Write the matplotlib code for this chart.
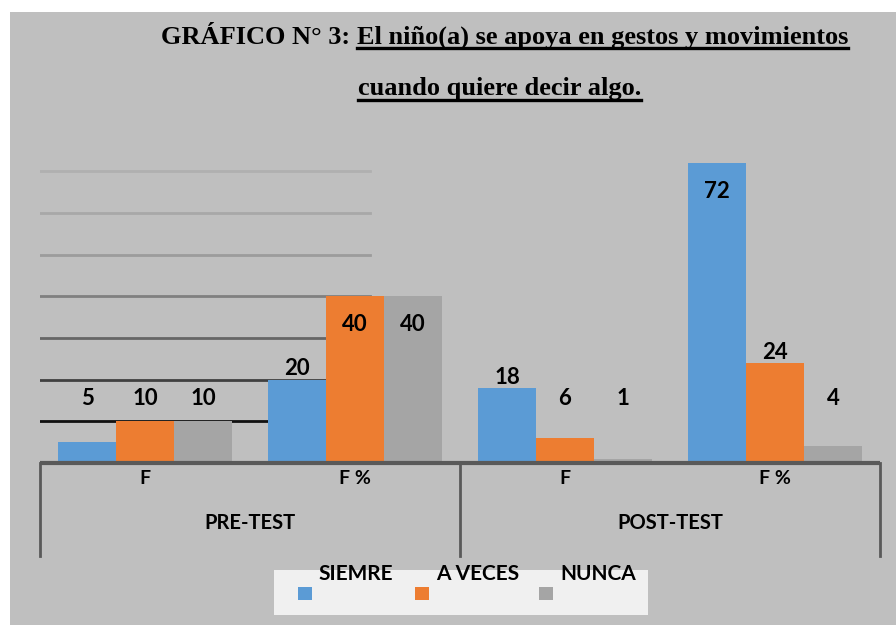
import matplotlib
matplotlib.use('Agg')
import matplotlib.pyplot as plt
from matplotlib.patches import Rectangle
from matplotlib.lines import Line2D
import numpy as np

# data
groups = ['PRE-TEST', 'POST-TEST']
categories = ['F', 'F %', 'F', 'F %']
series = ['SIEMRE', 'A VECES', 'NUNCA']
siempre = [5, 20, 18, 72]
a_veces = [10, 40, 6, 24]
nunca = [10, 40, 1, 4]
values = [siempre, a_veces, nunca]
colors = ['#5B9BD5', '#ED7D31', '#A5A5A5']

W, H = 896, 625
fig = plt.figure(figsize=(W / 100, H / 100), dpi=100)
fig.patch.set_facecolor('white')

# grey chart area
fig.patches.append(Rectangle((10 / W, 0), 1 - 10 / W, (H - 12) / H,
                             transform=fig.transFigure, facecolor='#BFBFBF',
                             edgecolor='none', zorder=-5))

lab_font = 'Lato'
ttl_font = 'Liberation Serif'

# title, second part underlined
t1 = fig.text(350 / W, 1 - 37 / H, 'GRÁFICO N° 3:', ha='right', va='center',
              fontsize=19, fontweight='bold', family=ttl_font)
t2 = fig.text(357 / W, 1 - 37 / H, 'El niño(a) se apoya en gestos y movimientos',
              ha='left', va='center', fontsize=19, fontweight='bold', family=ttl_font)
t3 = fig.text(358 / W, 1 - 89 / H, 'cuando quiere decir algo.', ha='left', va='center',
              fontsize=19, fontweight='bold', family=ttl_font)
r = fig.canvas.get_renderer()
for t, yu in [(t2, 48), (t3, 100)]:
    bb = t.get_window_extent(r)
    fig.lines.append(Line2D([bb.x0 / W, bb.x1 / W], [1 - yu / H, 1 - yu / H],
                            transform=fig.transFigure, color='black', lw=2.4))

# axes: baseline at y=463 px, x from 40 to 880 px
ax_h = 80 * (300 / 72)
ax = fig.add_axes([40 / W, (H - 463) / H, 840 / W, ax_h / H])
ax.set_facecolor('none')
ax.set_xlim(-0.5, 3.5)
ax.set_ylim(0, 80)
for s in ax.spines.values():
    s.set_visible(False)
ax.set_xticks([])
ax.set_yticks([])

# odd partial gridlines on the left side
grid_cols = ['#111111', '#404040', '#666666', '#808080', '#9c9c9c', '#a8a8a8', '#b0b0b0']
for i, y in enumerate(range(10, 80, 10)):
    ax.axhline(y, xmin=0, xmax=(370 - 40) / 840, color=grid_cols[i], lw=2, zorder=1)

x = np.arange(len(categories))
bw = 58 / 210
for k, (vals, c) in enumerate(zip(values, colors)):
    xs = x + (k - 1) * bw
    ax.bar(xs, vals, width=bw, color=c, zorder=2)
    for xi, v in zip(xs, vals):
        if v >= 35:
            yl = v - 6.8
        elif v < 12:
            yl = 15.4
        else:
            yl = v + 2.6
        ax.text(xi, yl, str(v), ha='center', va='center', fontsize=16,
                fontweight='bold', family=lab_font, zorder=3)

# multi-level category axis
axis_col = '#595959'
low = -(556 - 463) / ax_h
ax.plot([0, 1], [0, 0], transform=ax.transAxes, color=axis_col, lw=3,
        clip_on=False, zorder=4, solid_capstyle='butt')
for xv in [0, 0.5, 1]:
    ax.plot([xv, xv], [0, low], transform=ax.transAxes, color=axis_col, lw=2,
            clip_on=False, zorder=4)
for xi, cat in zip(x, categories):
    ax.text(xi, -(478 - 463) / ax_h, cat, transform=ax.get_xaxis_transform(),
            ha='center', va='center', fontsize=14, fontweight='bold', family=lab_font)
for gi, g in enumerate(groups):
    ax.text(0.25 + 0.5 * gi, -(523 - 463) / ax_h, g, transform=ax.transAxes,
            ha='center', va='center', fontsize=14.5, fontweight='bold', family=lab_font)

# legend box
fig.patches.append(Rectangle((274 / W, 1 - 615 / H), (648 - 274) / W, 45 / H,
                             transform=fig.transFigure, facecolor='#F0F0F0',
                             edgecolor='none', zorder=1))
mark_x = [298, 415, 539]
text_x = [318, 436, 560]
for name, c, mx, tx in zip(series, colors, mark_x, text_x):
    fig.patches.append(Rectangle((mx / W, 1 - 600 / H), 14 / W, 13 / H,
                                 transform=fig.transFigure, facecolor=c,
                                 edgecolor='none', zorder=2))
    fig.text(tx / W, 1 - 574 / H, name, ha='left', va='center', fontsize=15,
             fontweight='bold', family=lab_font, zorder=3)

fig.savefig('out.png', dpi=100)
